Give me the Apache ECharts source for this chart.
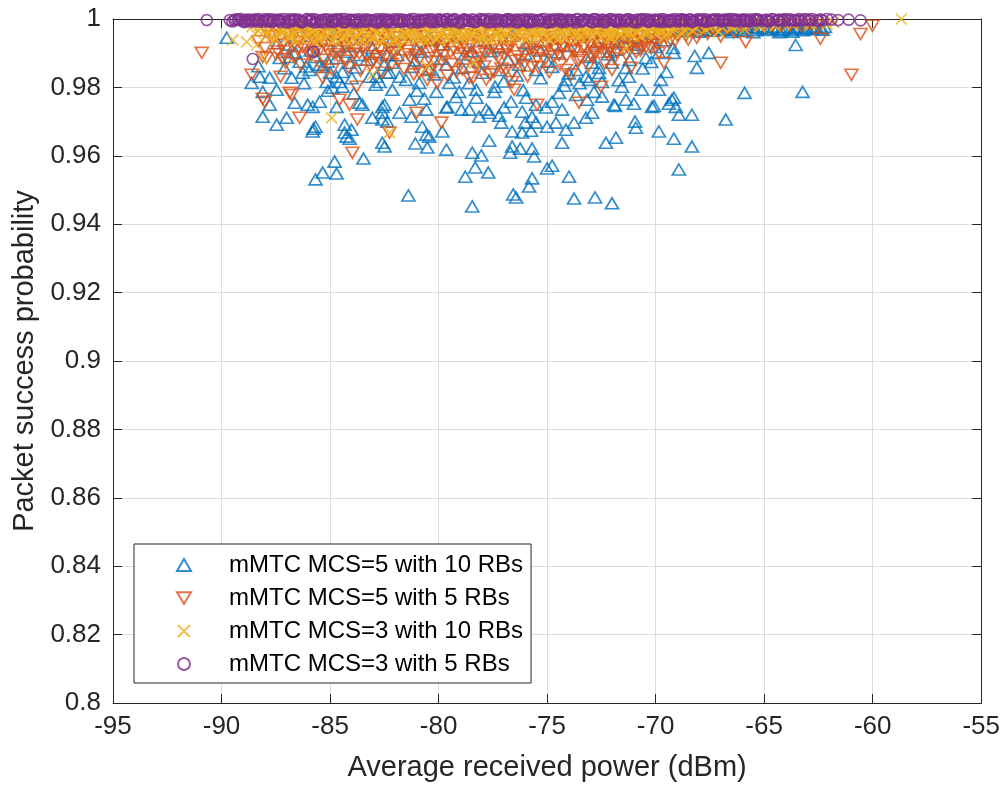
<!DOCTYPE html>
<html>
<head>
<meta charset="utf-8">
<script src="https://cdn.jsdelivr.net/npm/echarts@6/dist/echarts.min.js"></script>
<style>
html,body{margin:0;padding:0;background:#fff;}
#chart{width:1003px;height:787px;}
</style>
</head>
<body>
<div id="chart"></div>
<script>
// ---- data (x: average received power dBm, y: packet success probability) ----
const seriesNames = [
  'mMTC MCS=5 with 10 RBs',
  'mMTC MCS=5 with 5 RBs',
  'mMTC MCS=3 with 10 RBs',
  'mMTC MCS=3 with 5 RBs'
];
const xTicks = [-95, -90, -85, -80, -75, -70, -65, -60, -55];
const yTicks = [0.8, 0.82, 0.84, 0.86, 0.88, 0.9, 0.92, 0.94, 0.96, 0.98, 1];

const blueScatter = [
[-89.76,0.9945],[-88.61,0.9813],[-88.10,0.9787],[-87.78,0.9749],[-88.10,0.9714],[-87.46,0.9691],[-87.00,0.9711],[-86.03,0.9749],[-85.80,0.9743],[-85.48,0.9758],[-85.76,0.9679],[-85.67,0.9685],[-85.80,0.9671],[-84.79,0.9583],[-85.34,0.9551],[-85.67,0.9531],[-84.70,0.9548],[-83.46,0.9592],[-84.24,0.9656],[-84.33,0.9668],[-84.10,0.9650],[-84.01,0.9676],[-84.33,0.9691],[-87.46,0.9793],[-86.77,0.9828],[-86.26,0.9843],[-87.78,0.9828],[-87.41,0.9930],[-86.86,0.9889],[-84.89,0.9799],[-84.43,0.9802],[-84.70,0.9831],[-84.10,0.9872],[-85.34,0.9860],[-82.86,0.9831],[-82.59,0.9743],[-82.59,0.9706],[-82.59,0.9638],[-82.49,0.9627],[-83.05,0.9711],[-82.36,0.9700],[-82.59,0.9726],[-82.49,0.9749],[-83.64,0.9755],[-84.70,0.9743],[-86.63,0.9755],[-81.39,0.9484],
[-81.80,0.9726],[-81.25,0.9714],[-80.75,0.9685],[-80.43,0.9656],[-80.56,0.9662],[-81.07,0.9636],[-80.52,0.9624],[-79.64,0.9618],[-79.83,0.9671],[-79.64,0.9741],[-78.77,0.9539],[-78.31,0.9566],[-77.71,0.9551],[-78.45,0.9609],[-78.03,0.9601],[-77.67,0.9644],[-78.45,0.9452],[-77.11,0.9697],[-76.61,0.9671],[-76.70,0.9609],[-76.61,0.9627],[-76.24,0.9621],[-75.69,0.9621],[-75.60,0.9598],[-75.74,0.9673],[-75.69,0.9714],[-75.00,0.9685],[-75.00,0.9563],[-74.77,0.9571],[-75.69,0.9534],[-75.83,0.9510],[-76.56,0.9487],[-76.43,0.9478],[-74.31,0.9638],[-74.13,0.9676],[-73.99,0.9539],[-73.76,0.9475],[-73.76,0.9697],[-74.31,0.9735],[-75.05,0.9741],[-76.15,0.9729],[-76.98,0.9741],[-77.67,0.9726],[-78.59,0.9735],[-73.21,0.9711],[-72.79,0.9478],[-72.01,0.9461],[-72.29,0.9638],[-71.83,0.9653],[-72.93,0.9726],[-71.87,0.9746],[-70.95,0.9700],[-70.91,0.9682],[-71.00,0.9752],[-70.08,0.9746],[-69.85,0.9671],[-69.16,0.9650],[-68.93,0.9560],[-68.33,0.9627],[-68.33,0.9720],[-68.93,0.9720],[-69.07,0.9743],[-69.39,0.9752],[-66.77,0.9706],[-63.55,0.9924],[-63.23,0.9787],[-65.90,0.9784],[-68.10,0.9857],[-68.20,0.9892],[-67.55,0.9901],[-69.16,0.9901],[-69.16,0.9770],
[-74.59,0.9697],[-75.51,0.9697],[-76.01,0.9697],[-76.15,0.9668],[-77.21,0.9717],[-78.13,0.9714],[-78.26,0.9770],[-77.80,0.9735],[-78.95,0.9735],[-79.60,0.9743],[-80.56,0.9735],[-82.13,0.9793],[-81.34,0.9764],[-80.66,0.9767],[-80.10,0.9787],[-79.51,0.9813],[-79.05,0.9787],[-78.26,0.9793],[-77.44,0.9787],[-76.66,0.9758],[-75.97,0.9770],[-75.51,0.9749],[-74.77,0.9758],[-74.45,0.9784],[-73.67,0.9778],[-73.16,0.9764],[-72.84,0.9787],[-71.92,0.9749],[-71.37,0.9764],[-70.17,0.9743],[-69.25,0.9764],[-69.85,0.9793],[-70.63,0.9793],[-71.55,0.9802],[-72.47,0.9773],
[-71.83,0.9910],[-70.45,0.9886],[-69.76,0.9822],[-69.99,0.9918],[-70.91,0.9915],[-72.01,0.9872],[-72.93,0.9872],[-73.67,0.9851],[-74.77,0.9860],[-75.51,0.9851],[-76.29,0.9866],[-77.21,0.9851],[-78.13,0.9875],[-78.91,0.9857],[-79.64,0.9866],[-80.43,0.9851],[-81.21,0.9860],[-82.13,0.9872],[-82.40,0.9843],[-81.80,0.9831],[-80.89,0.9813],[-74.13,0.9822],[-73.21,0.9831],[-72.47,0.9816],[-71.23,0.9831],
[-88.24,0.9831],[-87.32,0.9886],[-86.40,0.9875],[-85.94,0.9851],[-85.48,0.9866],[-85.11,0.9875],[-84.43,0.9845],[-84.56,0.9816],[-85.16,0.9816],[-82.72,0.9816],[-82.26,0.9843],[-83.18,0.9831],[-83.51,0.9749],[-84.70,0.9886],[-84.24,0.9904],[-83.64,0.9895],[-83.05,0.9915],[-82.40,0.9895],
[-71.37,0.9857],[-72.61,0.9857],[-73.07,0.9822],[-69.85,0.9901],[-70.91,0.9945],[-71.69,0.9933]
];
const blueMid = [
[-86.6,0.9902],[-86.1,0.9861],[-85.7,0.9889],[-85.0,0.9843],[-84.6,0.9921],[-84.0,0.9827],[-83.8,0.9858],[-83.3,0.9881],[-82.9,0.9808],[-82.5,0.9866],[-81.9,0.9894],[-81.5,0.9822],[-81.1,0.9879],[-80.8,0.9904],[-80.2,0.9838],[-79.9,0.9884],[-79.3,0.9829],[-78.8,0.9896],[-78.6,0.9812],[-78.0,0.9843],[-77.6,0.9906],[-77.0,0.9817],[-76.8,0.9880],[-76.4,0.9835],[-76.0,0.9898],[-75.3,0.9827],[-75.0,0.9875],[-74.5,0.9903],[-74.0,0.9841],[-73.5,0.9812],[-73.0,0.9889],[-72.6,0.9842],[-72.2,0.9897],[-71.7,0.9821],[-71.2,0.9880],[-70.6,0.9855],[-70.2,0.9874],[-69.5,0.9845],[-81.0,0.9790],[-79.2,0.9772],[-77.4,0.9802],[-76.1,0.9792],[-74.2,0.9805],[-83.9,0.9783],[-86.2,0.9812],[-85.1,0.9790],[-87.1,0.9856],[-88.3,0.9862],
[-86.9,0.9925],[-86.4,0.9952],[-85.9,0.9908],[-85.2,0.9938],[-84.8,0.9957],[-84.1,0.9921],[-83.5,0.9946],[-82.9,0.9903],[-82.2,0.9934],[-81.6,0.9955],[-81.0,0.9912],[-80.4,0.9941],[-79.8,0.9926],[-79.1,0.9950],[-78.5,0.9906],[-77.9,0.9938],[-77.2,0.9917],[-76.6,0.9952],[-75.9,0.9929],[-75.3,0.9908],[-74.6,0.9943],[-74.0,0.9921],[-73.4,0.9954],[-72.7,0.9932],[-72.1,0.9905],[-71.5,0.9947],[-70.8,0.9925],[-70.2,0.9956],[-69.6,0.9938],[-69.2,0.9915]
];
const blueBand = [
[-69.0,0.9972],[-68.8,0.9965],[-68.6,0.9978],[-68.4,0.9968],[-68.2,0.9975],[-68.0,0.9963],[-67.8,0.9977],[-67.6,0.9970],[-67.4,0.9966],[-67.2,0.9979],[-67.0,0.9972],[-66.8,0.9967],[-66.6,0.9976],[-66.4,0.9969],[-66.2,0.9980],[-66.0,0.9965],[-65.8,0.9974],[-65.6,0.9978],[-65.4,0.9967],[-65.2,0.9972],[-65.0,0.9979],[-64.8,0.9968],[-64.6,0.9975],[-64.4,0.9971],[-64.2,0.9966],[-64.0,0.9977],[-63.8,0.9969],[-63.6,0.9973],[-63.4,0.9978],[-63.2,0.9967],[-63.0,0.9974],[-62.8,0.9970],[-62.6,0.9976],[-62.4,0.9972],[-62.2,0.9977],[-65.5,0.9961],[-66.5,0.9962],[-64.3,0.9961],[-63.7,0.9963],
[-68.9,0.9975],[-68.5,0.9970],[-68.1,0.9977],[-67.7,0.9968],[-67.3,0.9976],[-66.9,0.9970],[-66.3,0.9974],[-65.9,0.9969],[-65.3,0.9976],[-64.9,0.9972],[-64.5,0.9978],[-64.1,0.9970],[-63.5,0.9975],[-63.1,0.9971],[-62.7,0.9978],[-62.3,0.9969]
];

const orangeScatter = [
[-90.91,0.9901],[-88.61,0.9837],[-88.10,0.9767],[-87.28,0.9831],[-86.77,0.9778],[-86.40,0.9711],[-83.97,0.9609],[-83.74,0.9706],[-84.10,0.9749],[-84.56,0.9764],[-85.34,0.9828],[-87.18,0.9883],[-87.92,0.9886],[-83.78,0.9802],[-82.72,0.9883],[-82.26,0.9668],[-81.02,0.9726],[-79.87,0.9697],[-65.85,0.9933],[-67.00,0.9872],[-62.41,0.9942],[-60.56,0.9956],[-60.98,0.9837],[-60.01,0.9980],[-78.59,0.9828],[-77.80,0.9822],[-76.61,0.9816],[-76.52,0.9793],[-75.46,0.9749],[-73.53,0.9755],[-72.52,0.9802],[-72.01,0.9851],[-71.14,0.9857],[-69.62,0.9872],[-80.43,0.9851],[-80.89,0.9843],[-80.52,0.9822],[-80.06,0.9813],[-79.18,0.9845],[-78.26,0.9860],[-77.44,0.9845],[-76.89,0.9851],[-75.69,0.9860],[-74.13,0.9851],[-73.53,0.9880],[-72.75,0.9901],[-72.15,0.9910],[-70.63,0.9918],[-69.85,0.9901],[-88.10,0.9889],[-86.86,0.9784],[-88.01,0.9758]
];
const orangeBand = [
[-87.9,0.9962],[-87.6,0.9948],[-87.4,0.9971],[-87.2,0.9925],[-87.0,0.9956],[-86.8,0.9938],[-86.7,0.9968],[-86.5,0.9912],[-86.3,0.9951],[-86.2,0.9975],[-86.0,0.9931],[-85.8,0.9959],[-85.7,0.9904],[-85.5,0.9944],[-85.3,0.9967],[-85.2,0.9921],[-85.0,0.9953],[-84.8,0.9897],[-84.7,0.9936],[-84.5,0.9962],[-84.3,0.9915],[-84.2,0.9948],[-84.0,0.9972],[-83.8,0.9908],[-83.7,0.9941],[-83.5,0.9958],[-83.3,0.9892],[-83.2,0.9929],[-83.0,0.9965],[-82.8,0.9946],[-82.7,0.9911],[-82.5,0.9954],[-82.3,0.9933],[-82.2,0.9969],[-82.0,0.9901],[-81.8,0.9945],[-81.7,0.9926],[-81.5,0.9961],[-81.3,0.9887],[-81.2,0.9938],[-81.0,0.9957],[-80.8,0.9917],[-80.7,0.9949],[-80.5,0.9973],[-80.3,0.9905],[-80.2,0.9934],[-80.0,0.9962],[-79.8,0.9893],[-79.7,0.9927],[-79.5,0.9951],[-79.3,0.9914],[-79.2,0.9966],[-79.0,0.9940],[-78.8,0.9899],[-78.7,0.9955],[-78.5,0.9922],[-78.3,0.9947],[-78.2,0.9886],[-78.0,0.9963],[-77.8,0.9931],[-77.7,0.9909],[-77.5,0.9952],[-77.3,0.9937],[-77.2,0.9970],[-77.0,0.9896],[-76.8,0.9943],[-76.7,0.9919],[-76.5,0.9958],[-76.3,0.9928],[-76.2,0.9881],[-76.0,0.9950],[-75.8,0.9912],[-75.7,0.9964],[-75.5,0.9935],[-75.3,0.9902],[-75.2,0.9946],[-75.0,0.9924],[-74.8,0.9959],[-74.7,0.9890],[-74.5,0.9939],[-74.3,0.9916],[-74.2,0.9954],[-74.0,0.9932],[-73.8,0.9968],[-73.7,0.9906],[-73.5,0.9944],[-73.3,0.9921],[-73.2,0.9957],[-73.0,0.9894],[-72.8,0.9937],[-72.7,0.9962],[-72.5,0.9913],[-72.3,0.9948],[-72.2,0.9929],[-72.0,0.9966],[-71.8,0.9903],[-71.7,0.9942],[-71.5,0.9955],[-71.3,0.9918],[-71.2,0.9960],[-71.0,0.9934],[-70.8,0.9951],[-70.7,0.9908],[-70.5,0.9963],[-70.3,0.9941],[-70.1,0.9957],[-69.9,0.9925],[-69.7,0.9966],[-69.5,0.9947],[-69.3,0.9958],[-69.1,0.9936],[-68.9,0.9969],[-68.6,0.9952],[-68.4,0.9964],[-68.1,0.9945],[-67.9,0.9971],[-67.6,0.9957],[-67.3,0.9966],[-67.0,0.9949],[-66.7,0.9973],[-66.4,0.9961],[-66.1,0.9978],[-65.8,0.9975],[-65.4,0.9980],[-65.0,0.9978],[-64.6,0.9981],[-64.2,0.9979],[-63.8,0.9982],[-63.3,0.9980],[-62.9,0.9983],[-62.5,0.9981]
];
const orangeBandLower = [
[-88.3,0.9935],[-88.0,0.9915],[-87.75,0.9952],[-87.5,0.9897],[-87.3,0.9942],[-87.1,0.9906],[-86.9,0.9960],[-86.65,0.9889],[-86.45,0.9934],[-86.25,0.9918],[-86.05,0.9962],[-85.85,0.9893],[-85.65,0.9950],[-85.45,0.9912],[-85.25,0.9881],[-85.05,0.9937],[-84.85,0.9961],[-84.65,0.9906],[-84.45,0.9944],[-84.25,0.9878],[-84.05,0.9926],[-83.85,0.9955],[-83.65,0.9899],[-83.45,0.9917],[-83.25,0.9950],[-83.05,0.9872],[-82.85,0.9923],[-82.65,0.9957],[-82.45,0.9890],[-82.25,0.9914],[-82.05,0.9948],[-81.85,0.9879],[-81.65,0.9932],[-81.45,0.9907],[-81.25,0.9953],[-81.05,0.9894],[-80.85,0.9925],[-80.65,0.9960],[-80.45,0.9886],[-80.25,0.9919],[-80.05,0.9945],[-79.85,0.9875],[-79.65,0.9938],[-79.45,0.9903],[-79.25,0.9957],[-79.05,0.9884],[-78.85,0.9927],[-78.65,0.9911],[-78.45,0.9950],[-78.25,0.9870],[-78.05,0.9935],[-77.85,0.9898],[-77.65,0.9958],[-77.45,0.9921],[-77.25,0.9888],[-77.05,0.9944],[-76.85,0.9908],[-76.65,0.9935],[-76.45,0.9877],[-76.25,0.9953],[-76.05,0.9900],[-75.85,0.9938],[-75.65,0.9918],[-75.45,0.9885],[-75.25,0.9956],[-75.05,0.9906],[-74.85,0.9931],[-74.65,0.9948],[-74.45,0.9895],[-74.25,0.9924],[-74.05,0.9956],[-73.85,0.9911],[-73.65,0.9936],[-73.45,0.9887],[-73.25,0.9949],[-73.05,0.9926],[-72.85,0.9905],[-72.65,0.9951],[-72.45,0.9930],[-72.25,0.9899],[-72.05,0.9944],[-71.85,0.9925],[-71.65,0.9956],[-71.45,0.9912],[-71.25,0.9940],[-71.05,0.9960],[-70.85,0.9929],[-70.65,0.9947],[-70.45,0.9917],[-70.25,0.9952],[-70.05,0.9938]
];
const orangeBandDeep = [
[-87.4,0.9905],[-87.05,0.9872],[-86.7,0.9921],[-86.35,0.9866],[-86.0,0.9899],[-85.75,0.9936],[-85.4,0.9862],[-85.1,0.9908],[-84.9,0.9852],[-84.6,0.9889],[-84.35,0.9931],[-84.15,0.9858],[-83.9,0.9897],[-83.6,0.9849],[-83.4,0.9938],[-83.15,0.9866],[-82.9,0.9891],[-82.6,0.9843],[-82.4,0.9925],[-82.15,0.9868],[-81.9,0.9912],[-81.6,0.9854],[-81.4,0.9897],[-81.15,0.9838],[-80.9,0.9881],[-80.6,0.9931],[-80.4,0.9846],[-80.15,0.9875],[-79.9,0.9911],[-79.6,0.9835],[-79.4,0.9868],[-79.1,0.9922],[-78.9,0.9852],[-78.6,0.9890],[-78.4,0.9829],[-78.1,0.9903],[-77.9,0.9861],[-77.6,0.9838],[-77.35,0.9896],[-77.1,0.9855],[-76.9,0.9917],[-76.6,0.9842],[-76.35,0.9891],[-76.1,0.9863],[-75.9,0.9832],[-75.6,0.9904],[-75.4,0.9858],[-75.1,0.9881],[-74.9,0.9845],[-74.6,0.9912],[-74.4,0.9866],[-74.1,0.9892],[-73.9,0.9838],[-73.6,0.9875],[-73.35,0.9915],[-73.1,0.9862],[-72.9,0.9889],[-72.6,0.9927],[-72.35,0.9872],[-72.1,0.9918],[-71.9,0.9885],[-71.6,0.9935],[-71.35,0.9894],[-71.1,0.9921],[-70.9,0.9903],[-70.55,0.9938],[-70.2,0.9915],[-69.8,0.9946],[-69.4,0.9931],[-69.0,0.9952],[-68.5,0.9940],[-68.0,0.9958]
];

const yellowScatter = [
[-89.48,0.9939],[-88.84,0.9933],[-88.38,0.9924],[-88.15,0.9886],[-84.93,0.9711],[-83.05,0.9837],[-82.26,0.9668],[-80.52,0.9860],[-78.36,0.9872],[-81.80,0.9918],[-72.01,0.9945],[-71.37,0.9915],[-69.39,0.9959],[-67.10,0.9962],[-58.68,1.0]
];
const yellowBand = [
[-88.6,0.9978],[-88.3,0.9965],[-88.1,0.9983],[-87.9,0.9952],[-87.7,0.9974],[-87.5,0.9941],[-87.3,0.9968],[-87.1,0.9981],[-86.9,0.9949],[-86.8,0.9972],[-86.6,0.9937],[-86.4,0.9962],[-86.2,0.9979],[-86.1,0.9945],[-85.9,0.9966],[-85.7,0.9932],[-85.6,0.9958],[-85.4,0.9976],[-85.2,0.9943],[-85.1,0.9969],[-84.9,0.9935],[-84.7,0.9955],[-84.6,0.9980],[-84.4,0.9947],[-84.2,0.9964],[-84.1,0.9930],[-83.9,0.9973],[-83.7,0.9951],[-83.6,0.9939],[-83.4,0.9967],[-83.2,0.9982],[-83.1,0.9944],[-82.9,0.9959],[-82.7,0.9933],[-82.6,0.9975],[-82.4,0.9948],[-82.2,0.9963],[-82.1,0.9936],[-81.9,0.9977],[-81.7,0.9953],[-81.6,0.9940],[-81.4,0.9970],[-81.2,0.9946],[-81.1,0.9961],[-80.9,0.9984],[-80.7,0.9938],[-80.6,0.9965],[-80.4,0.9950],[-80.2,0.9974],[-80.1,0.9942],[-79.9,0.9960],[-79.7,0.9979],[-79.6,0.9945],[-79.4,0.9967],[-79.2,0.9934],[-79.1,0.9956],[-78.9,0.9973],[-78.7,0.9948],[-78.6,0.9962],[-78.4,0.9981],[-78.2,0.9943],[-78.1,0.9969],[-77.9,0.9952],[-77.7,0.9937],[-77.6,0.9976],[-77.4,0.9958],[-77.2,0.9946],[-77.1,0.9971],[-76.9,0.9955],[-76.7,0.9983],[-76.6,0.9940],[-76.4,0.9966],[-76.2,0.9951],[-76.1,0.9978],[-75.9,0.9944],[-75.7,0.9963],[-75.6,0.9972],[-75.4,0.9949],[-75.2,0.9980],[-75.1,0.9957],[-74.9,0.9938],[-74.7,0.9968],[-74.6,0.9953],[-74.4,0.9975],[-74.2,0.9946],[-74.1,0.9964],[-73.9,0.9982],[-73.7,0.9955],[-73.6,0.9942],[-73.4,0.9970],[-73.2,0.9959],[-73.1,0.9977],[-72.9,0.9948],[-72.7,0.9966],[-72.6,0.9983],[-72.4,0.9954],[-72.2,0.9972],[-72.1,0.9945],[-71.9,0.9961],[-71.7,0.9979],[-71.6,0.9952],[-71.4,0.9968],[-71.2,0.9957],[-71.1,0.9981],[-70.9,0.9963],[-70.7,0.9950],[-70.6,0.9975],[-70.4,0.9960],[-70.2,0.9984],[-70.0,0.9956],[-69.8,0.9970],[-69.6,0.9947],[-69.4,0.9978],[-69.2,0.9962],[-69.0,0.9982],[-68.8,0.9958],[-68.5,0.9975],[-68.3,0.9966],[-68.0,0.9983],[-67.7,0.9969],[-67.4,0.9979],[-67.1,0.9964],[-66.8,0.9984],[-66.5,0.9974],[-66.2,0.9981],[-65.9,0.9970],[-65.6,0.9985],[-65.2,0.9977],[-64.9,0.9983],[-64.5,0.9980],[-64.1,0.9986],[-63.7,0.9981],[-63.3,0.9987],[-62.9,0.9983],[-62.5,0.9988],[-62.1,0.9985],[-61.8,0.9990]
];
const yellowBandUpper = [
[-88.45,0.9958],[-88.2,0.9987],[-87.95,0.9971],[-87.75,0.9944],[-87.55,0.9986],[-87.35,0.9955],[-87.15,0.9969],[-86.95,0.9984],[-86.75,0.9952],[-86.55,0.9976],[-86.35,0.9941],[-86.15,0.9988],[-85.95,0.9957],[-85.75,0.9973],[-85.55,0.9946],[-85.35,0.9985],[-85.15,0.9953],[-84.95,0.9978],[-84.75,0.9940],[-84.55,0.9968],[-84.35,0.9986],[-84.15,0.9956],[-83.95,0.9943],[-83.75,0.9979],[-83.55,0.9962],[-83.35,0.9949],[-83.15,0.9987],[-82.95,0.9970],[-82.75,0.9954],[-82.55,0.9938],[-82.35,0.9983],[-82.15,0.9960],[-81.95,0.9945],[-81.75,0.9974],[-81.55,0.9988],[-81.35,0.9951],[-81.15,0.9966],[-80.95,0.9942],[-80.75,0.9980],[-80.55,0.9957],[-80.35,0.9971],[-80.15,0.9986],[-79.95,0.9948],[-79.75,0.9963],[-79.55,0.9939],[-79.35,0.9982],[-79.15,0.9969],[-78.95,0.9952],[-78.75,0.9987],[-78.55,0.9944],[-78.35,0.9966],[-78.15,0.9978],[-77.95,0.9941],[-77.75,0.9962],[-77.55,0.9985],[-77.35,0.9950],[-77.15,0.9973],[-76.95,0.9943],[-76.75,0.9967],[-76.55,0.9988],[-76.35,0.9954],[-76.15,0.9971],[-75.95,0.9960],[-75.75,0.9984],[-75.55,0.9946],[-75.35,0.9975],[-75.15,0.9965],[-74.95,0.9987],[-74.75,0.9950],[-74.55,0.9979],[-74.35,0.9962],[-74.15,0.9944],[-73.95,0.9972],[-73.75,0.9986],[-73.55,0.9958],[-73.35,0.9976],[-73.15,0.9949],[-72.95,0.9983],[-72.75,0.9963],[-72.55,0.9974],[-72.35,0.9987],[-72.15,0.9959],[-71.95,0.9977],[-71.75,0.9966],[-71.55,0.9984],[-71.35,0.9955],[-71.15,0.9973],[-70.95,0.9986],[-70.75,0.9968],[-70.55,0.9980],[-70.35,0.9958],[-70.15,0.9976],[-69.95,0.9985],[-69.75,0.9964],[-69.55,0.9979],[-69.35,0.9987],[-69.15,0.9971],[-68.9,0.9984],[-68.65,0.9968],[-68.4,0.9986],[-68.15,0.9975],[-67.9,0.9987],[-67.55,0.9976],[-67.25,0.9986],[-66.95,0.9978],[-66.65,0.9988],[-66.35,0.9980]
];
const yellowBandMid = [
[-87.2,0.9958],[-86.85,0.9943],[-86.5,0.9970],[-86.0,0.9951],[-85.5,0.9938],[-85.0,0.9962],[-84.5,0.9941],[-84.0,0.9957],[-83.5,0.9936],[-83.0,0.9948],[-82.5,0.9965],[-82.0,0.9939],[-81.5,0.9956],[-81.0,0.9946],[-80.5,0.9937],[-80.0,0.9953],[-79.5,0.9962],[-79.0,0.9941],[-78.5,0.9957],[-78.0,0.9947],[-77.5,0.9939],[-77.0,0.9961],[-76.5,0.9949],[-76.0,0.9940],[-75.5,0.9958],[-75.0,0.9946],[-74.5,0.9941],[-74.0,0.9957],[-73.5,0.9950],[-73.0,0.9962],[-72.5,0.9944],[-72.0,0.9956],[-71.5,0.9965],[-71.0,0.9949],[-70.5,0.9958],[-70.0,0.9968],[-69.5,0.9955],[-68.7,0.9962]
];

const purpleScatter = [
[-90.68,0.9997],[-89.62,0.9997],[-89.25,0.9998],[-88.79,0.9996],[-88.56,0.9883],[-85.76,0.9904],[-61.59,0.9997],[-61.11,0.9998],[-60.56,0.9996]
];
const purpleBand = [
[-89.4,0.9996],[-89.1,1.0],[-88.9,0.9993],[-88.7,0.9998],[-88.5,0.9995],[-88.3,1.0],[-88.1,0.9992],[-87.9,0.9997],[-87.8,0.9999],[-87.6,0.9994],[-87.4,0.9998],[-87.3,0.9991],[-87.1,1.0],[-86.9,0.9996],[-86.8,0.9993],[-86.6,0.9999],[-86.4,0.9995],[-86.3,0.9990],[-86.1,0.9998],[-85.9,0.9994],[-85.8,1.0],[-85.6,0.9992],[-85.4,0.9997],[-85.3,0.9990],[-85.1,0.9999],[-84.9,0.9995],[-84.8,0.9991],[-84.6,0.9998],[-84.4,0.9993],[-84.3,1.0],[-84.1,0.9996],[-83.9,0.9990],[-83.8,0.9998],[-83.6,0.9994],[-83.4,0.9999],[-83.3,0.9992],[-83.1,0.9997],[-82.9,0.9995],[-82.8,0.9990],[-82.6,1.0],[-82.4,0.9993],[-82.3,0.9998],[-82.1,0.9991],[-81.9,0.9996],[-81.8,0.9999],[-81.6,0.9994],[-81.4,0.9997],[-81.3,0.9990],[-81.1,1.0],[-80.9,0.9995],[-80.8,0.9992],[-80.6,0.9998],[-80.4,0.9994],[-80.3,0.9999],[-80.1,0.9991],[-79.9,0.9997],[-79.8,0.9995],[-79.6,1.0],[-79.4,0.9993],[-79.3,0.9998],[-79.1,0.9990],[-78.9,0.9996],[-78.8,0.9999],[-78.6,0.9994],[-78.4,0.9997],[-78.3,0.9992],[-78.1,1.0],[-77.9,0.9995],[-77.8,0.9998],[-77.6,0.9993],[-77.4,0.9999],[-77.3,0.9991],[-77.1,0.9996],[-76.9,0.9994],[-76.8,1.0],[-76.6,0.9997],[-76.4,0.9992],[-76.3,0.9998],[-76.1,0.9995],[-75.9,0.9990],[-75.8,0.9999],[-75.6,0.9994],[-75.4,0.9997],[-75.3,0.9993],[-75.1,1.0],[-74.9,0.9996],[-74.8,0.9991],[-74.6,0.9998],[-74.4,0.9995],[-74.3,0.9999],[-74.1,0.9992],[-73.9,0.9997],[-73.8,0.9994],[-73.6,1.0],[-73.4,0.9993],[-73.3,0.9998],[-73.1,0.9996],[-72.9,0.9991],[-72.8,0.9999],[-72.6,0.9995],[-72.4,0.9997],[-72.3,0.9992],[-72.1,1.0],[-71.9,0.9994],[-71.8,0.9998],[-71.6,0.9996],[-71.4,0.9993],[-71.3,0.9999],[-71.1,0.9995],[-70.9,0.9997],[-70.8,0.9991],[-70.6,1.0],[-70.4,0.9994],[-70.3,0.9998],[-70.1,0.9996],[-69.9,0.9992],[-69.8,0.9999],[-69.6,0.9995],[-69.4,0.9997],[-69.3,0.9993],[-69.1,1.0],[-68.9,0.9996],[-68.8,0.9998],[-68.6,0.9994],[-68.4,0.9999],[-68.3,0.9992],[-68.1,0.9997],[-67.9,0.9995],[-67.8,1.0],[-67.6,0.9993],[-67.4,0.9998],[-67.3,0.9996],[-67.1,0.9999],[-66.9,0.9994],[-66.8,0.9997],[-66.6,1.0],[-66.4,0.9995],[-66.3,0.9998],[-66.1,0.9993],[-65.9,0.9999],[-65.8,0.9996],[-65.6,0.9994],[-65.4,1.0],[-65.3,0.9997],[-65.1,0.9995],[-64.9,0.9998],[-64.8,0.9993],[-64.6,1.0],[-64.4,0.9996],[-64.3,0.9998],[-64.1,0.9994],[-63.9,0.9999],[-63.8,0.9996],[-63.6,0.9997],[-63.4,1.0],[-63.3,0.9995],[-63.1,0.9998],[-62.9,0.9996],[-62.8,1.0],[-62.6,0.9997],[-62.4,0.9999],[-62.3,0.9996],[-62.1,1.0],[-61.9,0.9998]
];
const purpleBandExtra = [
[-89.35,0.9999],[-89.05,0.9994],[-88.85,0.9998],[-88.65,0.9992],[-88.45,0.9999],[-88.25,0.9995],[-88.05,0.9998],[-87.85,0.9993],[-87.65,0.9999],[-87.45,0.9996],[-87.25,0.9998],[-87.05,0.9992],[-86.85,0.9999],[-86.65,0.9995],[-86.45,0.9998],[-86.25,0.9993],[-86.05,1.0],[-85.85,0.9996],[-85.65,0.9998],[-85.45,0.9992],[-85.25,0.9999],[-85.05,0.9994],[-84.85,0.9998],[-84.65,0.9995],[-84.45,1.0],[-84.25,0.9992],[-84.05,0.9998],[-83.85,0.9995],[-83.65,0.9999],[-83.45,0.9993],[-83.25,0.9998],[-83.05,0.9996],[-82.85,1.0],[-82.65,0.9993],[-82.45,0.9998],[-82.25,0.9995],[-82.05,0.9999],[-81.85,0.9992],[-81.65,0.9998],[-81.45,0.9995],[-81.25,1.0],[-81.05,0.9993],[-80.85,0.9998],[-80.65,0.9996],[-80.45,0.9999],[-80.25,0.9992],[-80.05,0.9998],[-79.85,0.9994],[-79.65,0.9999],[-79.45,0.9996],[-79.25,1.0],[-79.05,0.9993],[-78.85,0.9998],[-78.65,0.9995],[-78.45,0.9999],[-78.25,0.9993],[-78.05,0.9998],[-77.85,0.9996],[-77.65,1.0],[-77.45,0.9993],[-77.25,0.9998],[-77.05,0.9995],[-76.85,0.9999],[-76.65,0.9992],[-76.45,0.9998],[-76.25,0.9995],[-76.05,1.0],[-75.85,0.9993],[-75.65,0.9998],[-75.45,0.9996],[-75.25,0.9999],[-75.05,0.9992],[-74.85,0.9998],[-74.65,0.9995],[-74.45,1.0],[-74.25,0.9993],[-74.05,0.9998],[-73.85,0.9996],[-73.65,0.9999],[-73.45,0.9993],[-73.25,0.9998],[-73.05,0.9995],[-72.85,1.0],[-72.65,0.9993],[-72.45,0.9998],[-72.25,0.9996],[-72.05,0.9999],[-71.85,0.9992],[-71.65,0.9998],[-71.45,0.9995],[-71.25,1.0],[-71.05,0.9993],[-70.85,0.9998],[-70.65,0.9996],[-70.45,0.9999],[-70.25,0.9993],[-70.05,0.9998],[-69.85,0.9995],[-69.65,1.0],[-69.45,0.9993],[-69.25,0.9998],[-69.05,0.9995],[-68.85,0.9999],[-68.65,0.9996],[-68.45,0.9998],[-68.25,0.9994],[-68.05,1.0],[-67.85,0.9996],[-67.65,0.9998],[-67.45,0.9995],[-67.25,0.9999],[-67.05,0.9996],[-66.85,0.9998],[-66.65,0.9995],[-66.45,1.0],[-66.25,0.9997],[-66.05,0.9998],[-65.85,0.9995],[-65.65,0.9999],[-65.45,0.9997],[-65.25,0.9998],[-64.95,0.9996],[-64.65,0.9999],[-64.35,0.9997],[-64.05,1.0],[-63.75,0.9998],[-63.45,0.9997],[-63.15,0.9999]
];
const purpleBandLow = [
[-89.5,0.9993],[-89.2,0.9998],[-88.95,0.9991],[-88.6,0.9997],[-88.35,0.9993],[-87.95,0.9999],[-87.7,0.9991],[-87.35,0.9996],[-86.95,0.9990],[-86.7,0.9998],[-86.35,0.9992],[-85.95,0.9997],[-85.7,0.9990],[-85.35,0.9996],[-84.95,0.9991],[-84.7,0.9999],[-84.35,0.9990],[-83.95,0.9997],[-83.7,0.9991],[-83.35,0.9996],[-82.95,0.9991],[-82.7,0.9997],[-82.35,0.9990],[-81.95,0.9998],[-81.7,0.9991],[-81.35,0.9996],[-80.95,0.9990],[-80.7,0.9997],[-80.35,0.9991],[-79.95,0.9999],[-79.7,0.9991],[-79.35,0.9996],[-78.95,0.9990],[-78.7,0.9997],[-78.35,0.9991],[-77.95,0.9998],[-77.7,0.9990],[-77.35,0.9996],[-76.95,0.9991],[-76.7,0.9998],[-76.35,0.9990],[-75.95,0.9997],[-75.7,0.9991],[-75.35,0.9996],[-74.95,0.9990],[-74.7,0.9998],[-74.35,0.9991],[-73.95,0.9997],[-73.7,0.9990],[-73.35,0.9996],[-72.95,0.9991],[-72.7,0.9998],[-72.35,0.9990],[-71.95,0.9997],[-71.7,0.9991],[-71.35,0.9996],[-70.95,0.9990],[-70.7,0.9998],[-70.35,0.9992],[-69.95,0.9997],[-69.7,0.9991],[-69.35,0.9996],[-68.95,0.9992],[-68.7,0.9998],[-68.35,0.9993],[-67.95,0.9997],[-67.7,0.9992],[-67.35,0.9997],[-66.95,0.9993],[-66.7,0.9998],[-66.35,0.9994],[-65.95,0.9997],[-65.7,0.9993],[-65.35,0.9998],[-64.75,0.9995],[-64.15,0.9997],[-63.55,0.9995],[-62.95,0.9998],[-62.5,0.9995]
];

// ---- presentation ----
const colors = ['#0072BD', '#D95319', '#EDB120', '#7E2F8E'];
const FONT = '"Liberation Sans", Arial, Helvetica, sans-serif';
const AXIS_COLOR = '#262626';
const GRID_COLOR = '#dcdcdc';
const symbols = [
  'triangle',
  'path://M0,0L12,0L6,10Z',
  'path://M0,0L10,10M10,0L0,10',
  'circle'
];
const symbolSizes = [[13, 11], [13, 11], [11, 11], 11];
const seriesData = [
  blueScatter.concat(blueMid, blueBand),
  orangeScatter.concat(orangeBandDeep, orangeBandLower, orangeBand),
  yellowScatter.concat(yellowBandMid, yellowBand, yellowBandUpper),
  purpleScatter.concat(purpleBandLow, purpleBand, purpleBandExtra)
];

const chart = echarts.init(document.getElementById('chart'), null, {renderer: 'canvas'});

function axisCommon(extra) {
  return Object.assign({
    type: 'value',
    axisLine: {show: true, onZero: false, lineStyle: {color: AXIS_COLOR, width: 1}},
    axisTick: {show: true, inside: true, length: 9, lineStyle: {color: AXIS_COLOR, width: 1}},
    splitLine: {show: false},
    axisLabel: {show: false}
  }, extra);
}

const option = {
  backgroundColor: '#ffffff',
  animation: false,
  textStyle: {fontFamily: FONT},
  grid: {left: 113, right: 20, top: 19, bottom: 82, containLabel: false},
  xAxis: [
    axisCommon({
      min: xTicks[0], max: xTicks[xTicks.length - 1], interval: 5, position: 'bottom',
      splitLine: {show: true, lineStyle: {color: GRID_COLOR, width: 1}},
      axisLabel: {show: true, fontSize: 26, color: AXIS_COLOR, margin: 11, fontFamily: FONT},
      name: 'Average received power (dBm)', nameLocation: 'middle', nameGap: 50,
      nameTextStyle: {fontSize: 29, color: AXIS_COLOR, fontFamily: FONT}
    }),
    axisCommon({min: xTicks[0], max: xTicks[xTicks.length - 1], interval: 5, position: 'top'})
  ],
  yAxis: [
    axisCommon({
      min: yTicks[0], max: yTicks[yTicks.length - 1], interval: 0.02, position: 'left',
      splitLine: {show: true, lineStyle: {color: GRID_COLOR, width: 1}},
      axisLabel: {show: true, fontSize: 26, color: AXIS_COLOR, margin: 12, fontFamily: FONT,
        formatter: v => String(+v.toFixed(2))},
      name: 'Packet success probability', nameLocation: 'middle', nameGap: 71, nameRotate: 90,
      nameTextStyle: {fontSize: 29, color: AXIS_COLOR, fontFamily: FONT}
    }),
    axisCommon({min: yTicks[0], max: yTicks[yTicks.length - 1], interval: 0.02, position: 'right'})
  ],
  legend: {
    orient: 'vertical',
    left: 134, top: 544,
    padding: [9, 8, 7, 42],
    itemWidth: 14, itemHeight: 12, itemGap: 9,
    backgroundColor: '#ffffff',
    borderColor: AXIS_COLOR, borderWidth: 1,
    selectedMode: false,
    textStyle: {fontSize: 24, color: '#000', fontFamily: FONT, lineHeight: 24, padding: [0, 0, 0, 33]},
    data: seriesNames
  },
  series: seriesNames.map((name, i) => ({
    name: name,
    type: 'scatter',
    xAxisIndex: 0, yAxisIndex: 0,
    clip: false,
    symbol: symbols[i],
    symbolSize: symbolSizes[i],
    itemStyle: {color: 'rgba(255,255,255,0)', borderColor: colors[i], borderWidth: 1.7},
    emphasis: {disabled: true},
    data: seriesData[i]
  }))
};
chart.setOption(option);
</script>
</body>
</html>
